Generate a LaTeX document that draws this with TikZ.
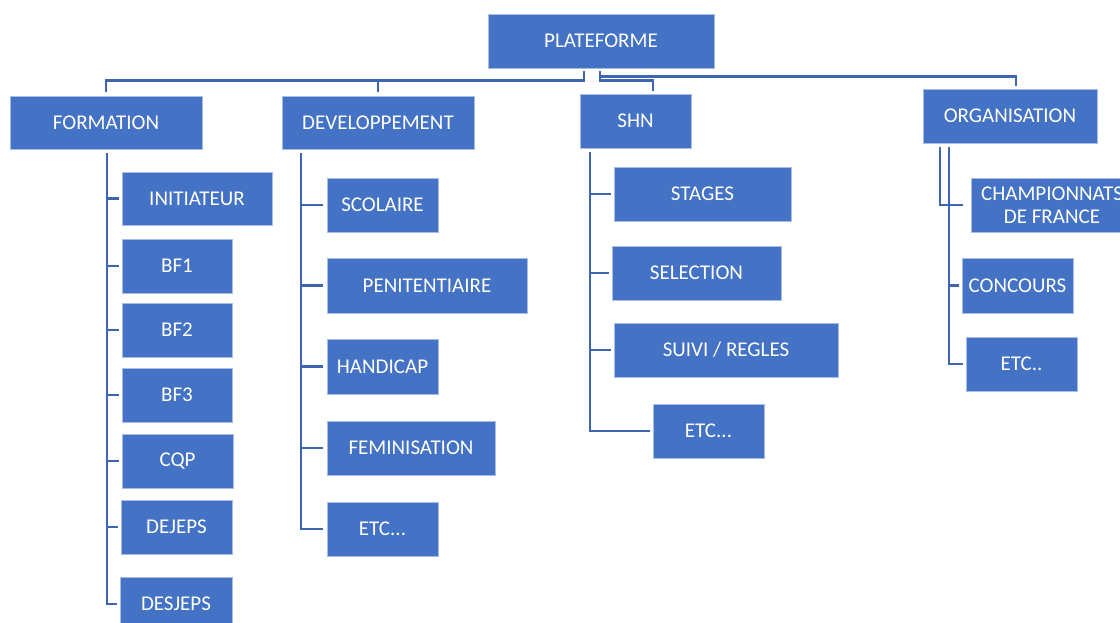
\documentclass[tikz,border=0pt]{standalone}
\usepackage{fontspec}
\setmainfont{Carlito}
\definecolor{boxblue}{HTML}{4472C4}
\definecolor{boxedge}{HTML}{A9BDE4}
\definecolor{linkblue}{HTML}{3E65B0}
\begin{document}
\begin{tikzpicture}[x=1pt,y=-1pt,
  box/.style={fill=boxblue, draw=boxedge, line width=0.8pt, text=white,
    font=\fontsize{21}{23}\selectfont, inner sep=0pt, align=center},
  link/.style={draw=linkblue, line width=2.8pt}]
\useasboundingbox (0,0) rectangle (1120,623);
\clip (0,0) rectangle (1120,623);
% top level
\node[box, minimum width=226pt, minimum height=54pt] (plat) at (601,41) {PLATEFORME};
\node[box, minimum width=192pt, minimum height=53pt] (form) at (106,122.5) {FORMATION};
\node[box, minimum width=192pt, minimum height=53pt] (dev) at (378,122.5) {DEVELOPPEMENT};
\node[box, minimum width=111pt, minimum height=54pt] (shn) at (635.5,121) {SHN};
\node[box, minimum width=174pt, minimum height=54pt] (org) at (1010,116) {ORGANISATION};
% formation
\node[box, minimum width=150pt, minimum height=53pt] (init) at (197,198.5) {INITIATEUR};
\node[box, minimum width=110pt, minimum height=54pt] (bf1) at (177,266) {BF1};
\node[box, minimum width=110pt, minimum height=54pt] (bf2) at (177,330) {BF2};
\node[box, minimum width=110pt, minimum height=54pt] (bf3) at (177,395) {BF3};
\node[box, minimum width=111pt, minimum height=54pt] (cqp) at (177.5,461) {CQP};
\node[box, minimum width=111pt, minimum height=54pt] (dejeps) at (176.5,527) {DEJEPS};
\node[box, minimum width=112pt, minimum height=54pt] (desjeps) at (176,604) {DESJEPS};
% developpement
\node[box, minimum width=111pt, minimum height=54pt] (scol) at (382.5,205) {SCOLAIRE};
\node[box, minimum width=200pt, minimum height=55pt] (pen) at (427,285.5) {PENITENTIAIRE};
\node[box, minimum width=111pt, minimum height=55pt] (hand) at (382.5,366.5) {HANDICAP};
\node[box, minimum width=168pt, minimum height=54pt] (fem) at (411,448) {FEMINISATION};
\node[box, minimum width=111pt, minimum height=54pt] (detc) at (382.5,529) {ETC...};
% shn
\node[box, minimum width=177pt, minimum height=54pt] (stages) at (702.5,194) {STAGES};
\node[box, minimum width=169pt, minimum height=54pt] (sel) at (696.5,273) {SELECTION};
\node[box, minimum width=224pt, minimum height=54pt] (suivi) at (726,350) {SUIVI / REGLES};
\node[box, minimum width=111pt, minimum height=54pt] (setc) at (708.5,431) {ETC...};
% organisation
\node[box, minimum width=162pt, minimum height=54pt] (champ) at (1052,205) {CHAMPIONNATS\\DE FRANCE};
\node[box, minimum width=111pt, minimum height=55pt] (conc) at (1017.5,285.5) {CONCOURS};
\node[box, minimum width=111pt, minimum height=54pt] (oetc) at (1021.5,364) {ETC..};
% top connectors
\draw[link] ([xshift=-17pt,yshift=-3pt]plat.south) |- ([yshift=15pt]form.north) -- ([yshift=4pt]form.north);
\draw[link] ([yshift=15pt]dev.north) -- ([yshift=4pt]dev.north);
\draw[link] ([xshift=-1pt,yshift=-3pt]plat.south) |- ([xshift=17.5pt,yshift=13pt]shn.north) -- ([xshift=17.5pt,yshift=3pt]shn.north);
\draw[link] ([xshift=-1pt,yshift=-8pt]plat.south) -| ([xshift=6pt,yshift=3pt]org.north);
% formation children
\foreach \c in {init,bf1,bf2,bf3,cqp,dejeps,desjeps}
  \draw[link] ([xshift=1pt,yshift=-4pt]form.south) |- ([xshift=-3pt]\c.west);
% developpement children
\foreach \c in {scol,pen,hand,fem,detc}
  \draw[link] ([xshift=-77pt,yshift=-4pt]dev.south) |- ([xshift=-4pt]\c.west);
% shn children
\foreach \c in {stages,sel,suivi,setc}
  \draw[link] ([xshift=-45.5pt,yshift=-4pt]shn.south) |- ([xshift=-3pt]\c.west);
% organisation children
\draw[link] ([xshift=-70pt,yshift=-4pt]org.south) |- ([xshift=-8pt]champ.west);
\foreach \c in {conc,oetc}
  \draw[link] ([xshift=-61pt,yshift=-4pt]org.south) |- ([xshift=-3pt]\c.west);
\end{tikzpicture}
\end{document}
